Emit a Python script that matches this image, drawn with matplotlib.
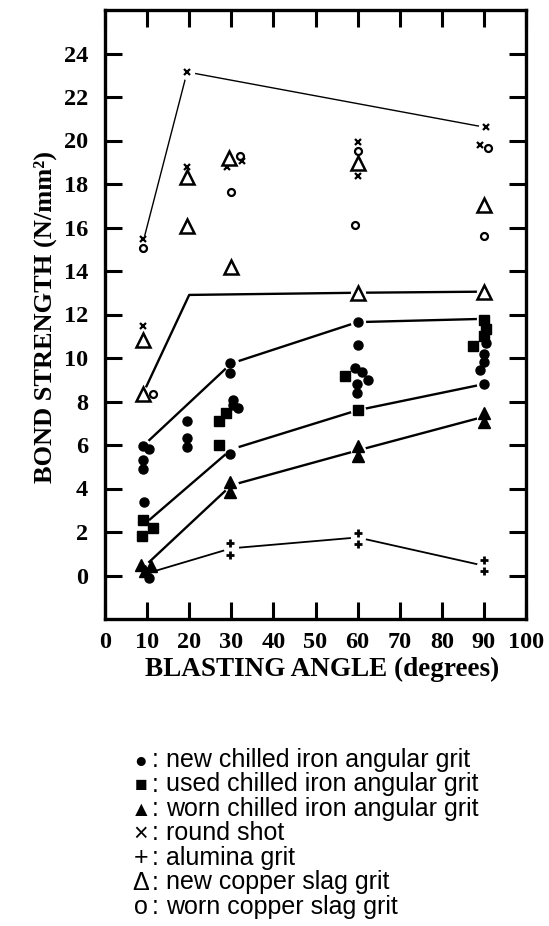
import matplotlib
matplotlib.use("Agg")
import matplotlib.pyplot as plt
from matplotlib import font_manager

# ---------------- data ----------------
new_chilled_x = [9, 10.5, 9, 9, 9.2, 10.5, 19.5, 19.5, 19.5, 29.8, 29.8, 30.5, 31.5, 30.3, 29.7,
                 60, 60, 59.5, 61, 62.5, 59.8, 59.8, 90.5, 90, 90, 89, 90]
new_chilled_y = [5.95, 5.8, 5.3, 4.9, 3.4, -0.1, 7.1, 6.3, 5.9, 9.75, 9.3, 7.85, 7.7, 8.05, 5.6,
                 11.65, 10.6, 9.55, 9.35, 9.0, 8.8, 8.4, 10.7, 10.2, 9.8, 9.45, 8.8]

used_chilled_x = [9, 11.5, 8.8, 27, 28.8, 27, 57, 60, 90, 90.5, 90, 87.5]
used_chilled_y = [2.55, 2.2, 1.8, 7.1, 7.45, 6.0, 9.15, 7.6, 11.75, 11.35, 11.0, 10.55]

worn_chilled_x = [8.5, 11, 9.5, 29.8, 29.8, 60, 60, 90, 90]
worn_chilled_y = [0.5, 0.45, 0.2, 4.3, 3.85, 5.95, 5.5, 7.45, 7.05]

round_shot_x = [9, 9, 19.5, 19.5, 29, 32.5, 60, 60, 90.5, 89]
round_shot_y = [15.45, 11.45, 23.15, 18.8, 18.8, 19.05, 19.95, 18.35, 20.6, 19.8]

alumina_x = [10, 29.8, 29.8, 60, 60, 90, 90]
alumina_y = [0.05, 1.5, 0.95, 1.95, 1.45, 0.7, 0.2]

new_slag_x = [9, 9, 19.5, 19.5, 29.5, 30, 60, 60, 90, 90]
new_slag_y = [10.85, 8.35, 18.3, 16.05, 19.2, 14.2, 18.95, 13.0, 17.05, 13.05]

worn_slag_x = [9, 11.3, 32, 30, 60, 59.5, 91, 90]
worn_slag_y = [15.05, 8.35, 19.3, 17.65, 19.5, 16.1, 19.65, 15.6]

# trend lines drawn through the data
line_new_x, line_new_y = [9, 30, 60, 90], [5.95, 9.75, 11.65, 11.8]
line_used_x, line_used_y = [9, 30, 60, 90], [2.3, 5.8, 7.6, 8.8]
line_worn_x, line_worn_y = [9, 30, 60, 90], [0.35, 4.15, 5.75, 7.3]
line_alu_x, line_alu_y = [10, 30, 60, 90], [0.1, 1.25, 1.75, 0.45]
line_round_x, line_round_y = [9, 19.5, 90.5], [15.3, 23.15, 20.6]
line_slag_x, line_slag_y = [9, 20, 60, 90], [8.35, 12.9, 13.0, 13.05]
line_slag_gap = [True, False, True, True]

x_ticks = [0, 10, 20, 30, 40, 50, 60, 70, 80, 90, 100]
y_ticks = [0, 2, 4, 6, 8, 10, 12, 14, 16, 18, 20, 22, 24]

legend_symbols = ["\u25cf", "\u25a0", "\u25b2", "\u00d7", "+", "\u0394", "o"]
legend_labels = ["new chilled iron angular grit", "used chilled iron angular grit",
                 "worn chilled iron angular grit", "round shot", "alumina grit",
                 "new copper slag grit", "worn copper slag grit"]

# ---------------- figure ----------------
W, H = 549, 926
fig = plt.figure(figsize=(W / 100, H / 100), dpi=100)
ax = fig.add_axes([105 / W, 1 - 619 / H, (526 - 105) / W, (619 - 10) / H])
ax.set_xlim(0, 100)
ax.set_ylim(-2, 26)

serif = "Liberation Serif"
names = {f.name for f in font_manager.fontManager.ttflist}
leg_font = "Liberation Sans Narrow" if "Liberation Sans Narrow" in names else "Liberation Sans"
leg_size = 18 if leg_font == "Liberation Sans" else 21

lines = [
    (line_new_x, line_new_y, 1.7, None),
    (line_used_x, line_used_y, 1.7, None),
    (line_worn_x, line_worn_y, 1.7, None),
    (line_alu_x, line_alu_y, 1.3, None),
    (line_round_x, line_round_y, 1.0, None),
    (line_slag_x, line_slag_y, 1.7, line_slag_gap),
]
for lx, ly, lw, gap in lines:
    ax.plot(lx, ly, color="black", lw=lw, zorder=1, solid_capstyle="butt")
    if gap is None:
        gap = [True] * len(lx)
    gx = [a for a, g in zip(lx, gap) if g]
    gy = [b for b, g in zip(ly, gap) if g]
    ax.plot(gx, gy, ls="none", marker="o", ms=11, mfc="white", mec="none", zorder=2)

k = dict(ls="none", color="black", zorder=3)
ax.plot(new_chilled_x, new_chilled_y, marker="o", ms=6.5, **k)
ax.plot(used_chilled_x, used_chilled_y, marker="s", ms=6.5, **k)
ax.plot(worn_chilled_x, worn_chilled_y, marker="^", ms=9, **k)
ax.plot(round_shot_x, round_shot_y, marker="x", ms=4.5, mew=1.6, **k)
ax.plot(alumina_x, alumina_y, marker="+", ms=6, mew=2.0, **k)
ax.plot(new_slag_x, new_slag_y, marker="^", ms=10, mfc="white", mec="black", mew=1.8,
        ls="none", zorder=3)
ax.plot(worn_slag_x, worn_slag_y, marker="o", ms=5, mfc="white", mec="black", mew=1.6,
        ls="none", zorder=3)

for s in ax.spines.values():
    s.set_linewidth(2.4)

ax.set_xticks(x_ticks)
ax.set_yticks(y_ticks)
ax.tick_params(axis="both", direction="in", length=12, width=2.2,
               top=True, right=True, labelsize=17.5)
ax.tick_params(axis="x", pad=9)
ax.tick_params(axis="y", pad=12)
for lab in ax.get_xticklabels() + ax.get_yticklabels():
    lab.set_fontfamily(serif)
    lab.set_fontweight("bold")

fig.text(45 / W, 1 - 317 / H, "BOND STRENGTH (N/mm\u00b2)", rotation=90,
         ha="center", va="center", fontsize=19, fontweight="bold", family=serif)
fig.text(322 / W, 1 - 669 / H, "BLASTING ANGLE (degrees)",
         ha="center", va="center", fontsize=19.5, fontweight="bold", family=serif)

# legend as text block
base0, step = 767, 24.5
fam = [leg_font, "DejaVu Sans"]
for i, (sym, lab) in enumerate(zip(legend_symbols, legend_labels)):
    yb = 1 - (base0 + i * step) / H
    sz = 15 if i < 3 else leg_size
    fig.text(141 / W, yb, sym, ha="center", va="baseline", fontsize=sz, family=fam)
    fig.text(152 / W, yb, ":", ha="left", va="baseline", fontsize=leg_size, family=fam)
    fig.text(166 / W, yb, lab, ha="left", va="baseline", fontsize=leg_size, family=fam)

fig.savefig("out.png", dpi=100)
